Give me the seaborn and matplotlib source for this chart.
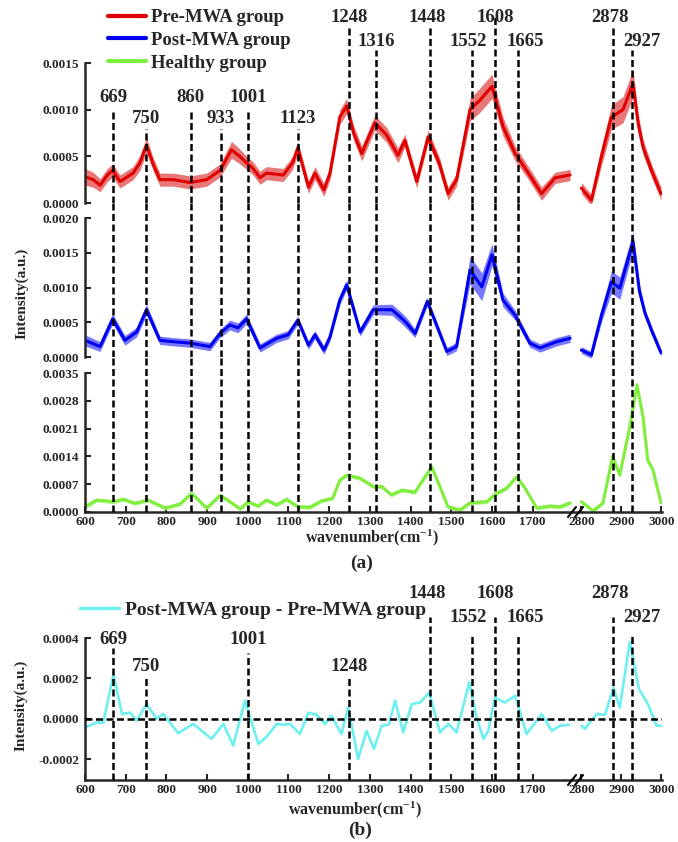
import matplotlib
matplotlib.use("Agg")
import matplotlib.pyplot as plt
from matplotlib.ticker import FormatStrFormatter
from matplotlib.lines import Line2D
import seaborn as sns
import numpy as np

# ====================================================
# DATA
# ====================================================

pre_wn = [600, 620, 637, 655, 668, 686, 718, 735, 751, 768,
          784, 817, 858, 899, 932, 960, 980, 997, 1013, 1030,
          1046, 1087, 1110, 1123, 1149, 1165, 1187, 1202, 1226, 1243,
          1260, 1280, 1312, 1341, 1369, 1386, 1415, 1443, 1470, 1492,
          1513, 1546, 1570, 1600, 1627, 1657, 1685, 1722, 1755, 1792,
          2800, 2825, 2850, 2875, 2904, 2929, 2942, 2954, 2975, 2999]
pre_int = [2.8e-4, 2.5e-4, 1.9e-4, 3.0e-4, 3.5e-4, 2.3e-4, 3.2e-4, 4.3e-4, 6.2e-4, 4.1e-4,
           2.5e-4, 2.5e-4, 2.2e-4, 2.5e-4, 3.5e-4, 5.7e-4, 5.0e-4, 4.3e-4, 3.7e-4, 2.7e-4,
           3.2e-4, 3.0e-4, 4.3e-4, 5.9e-4, 1.7e-4, 3.2e-4, 1.4e-4, 3.2e-4, 9.2e-4, 10.4e-4,
           7.5e-4, 5.3e-4, 8.6e-4, 7.3e-4, 5.1e-4, 6.7e-4, 2.3e-4, 7.1e-4, 4.3e-4, 1.0e-4,
           2.5e-4, 10.0e-4, 11.0e-4, 12.5e-4, 8.2e-4, 5.3e-4, 3.5e-4, 1.0e-4, 2.7e-4, 3.0e-4,
           1.6e-4, 0.3e-4, 5.0e-4, 9.2e-4, 10.0e-4, 12.8e-4, 8.5e-4, 6.0e-4, 3.5e-4, 1.0e-4]
pre_sd = [0.9e-4, 0.8e-4, 0.7e-4, 0.7e-4, 0.7e-4, 0.7e-4, 0.7e-4, 0.8e-4, 0.8e-4, 0.7e-4,
          0.7e-4, 0.7e-4, 0.7e-4, 0.7e-4, 0.7e-4, 0.9e-4, 0.8e-4, 0.7e-4, 0.7e-4, 0.7e-4,
          0.7e-4, 0.7e-4, 0.7e-4, 0.7e-4, 0.7e-4, 0.7e-4, 0.7e-4, 0.7e-4, 0.8e-4, 0.8e-4,
          0.8e-4, 0.8e-4, 0.8e-4, 0.8e-4, 0.8e-4, 0.7e-4, 0.7e-4, 0.7e-4, 0.7e-4, 0.7e-4,
          0.7e-4, 1.2e-4, 1.3e-4, 1.3e-4, 1.0e-4, 0.8e-4, 0.7e-4, 0.7e-4, 0.6e-4, 0.6e-4,
          0.6e-4, 0.6e-4, 1.0e-4, 1.3e-4, 1.4e-4, 1.5e-4, 1.0e-4, 0.8e-4, 0.7e-4, 0.7e-4]

post_wn = [600, 637, 668, 698, 727, 751,
           784, 817, 858, 907, 932, 956, 976, 997, 1030, 1071,
           1099, 1123, 1149, 1165, 1187, 1202, 1226, 1243, 1276, 1308,
           1354, 1374, 1390, 1411, 1441, 1489, 1513, 1546, 1575, 1600,
           1627, 1657, 1693, 1718, 1759, 1792,
           2800, 2825, 2850, 2875, 2896, 2929, 2945, 2959, 2975, 2999]
post_int = [2.4e-4, 1.5e-4, 5.5e-4, 2.4e-4, 3.6e-4, 6.8e-4,
            2.4e-4, 2.2e-4, 2.0e-4, 1.5e-4, 3.4e-4, 4.6e-4, 4.2e-4, 5.5e-4, 1.3e-4, 2.7e-4,
            3.2e-4, 5.3e-4, 1.7e-4, 3.2e-4, 1.0e-4, 2.9e-4, 8.2e-4, 10.4e-4, 3.6e-4, 6.8e-4,
            6.8e-4, 5.8e-4, 4.9e-4, 3.4e-4, 8.0e-4, 0.8e-4, 1.5e-4, 12.5e-4, 10.1e-4, 14.7e-4,
            8.2e-4, 6.0e-4, 2.0e-4, 1.3e-4, 2.2e-4, 2.7e-4,
            1.0e-4, 0.3e-4, 6.0e-4, 10.8e-4, 9.9e-4, 16.6e-4, 9.5e-4, 6.3e-4, 3.9e-4, 0.6e-4]
post_sd = [0.8e-4, 0.7e-4, 0.7e-4, 0.7e-4, 0.7e-4, 0.8e-4,
           0.6e-4, 0.6e-4, 0.6e-4, 0.6e-4, 0.6e-4, 0.7e-4, 0.7e-4, 0.7e-4, 0.6e-4, 0.6e-4,
           0.6e-4, 0.6e-4, 0.6e-4, 0.6e-4, 0.6e-4, 0.6e-4, 0.7e-4, 0.7e-4, 0.6e-4, 0.7e-4,
           0.8e-4, 0.8e-4, 0.8e-4, 0.6e-4, 0.6e-4, 0.6e-4, 0.6e-4, 2.0e-4, 2.0e-4, 1.6e-4,
           1.0e-4, 0.7e-4, 0.6e-4, 0.6e-4, 0.6e-4, 0.6e-4,
           0.5e-4, 0.5e-4, 1.0e-4, 1.6e-4, 1.6e-4, 1.4e-4, 1.0e-4, 0.6e-4, 0.6e-4, 0.5e-4]

healthy_wn = [600, 629, 670, 694, 723, 755, 797, 833, 862, 899,
              932, 956, 981, 1001, 1025, 1046, 1071, 1095, 1123, 1153,
              1181, 1209, 1226, 1243, 1276, 1308, 1329, 1353, 1378, 1411,
              1430, 1452, 1472, 1492, 1521, 1546, 1587, 1611, 1636, 1661,
              1681, 1710, 1742, 1767, 1792,
              2800, 2829, 2854, 2878, 2896, 2921, 2939, 2954, 2966, 2979, 2999]
healthy_int = [1.3e-4, 3.0e-4, 2.6e-4, 3.2e-4, 2.2e-4, 3.0e-4, 1.0e-4, 2.0e-4, 4.7e-4, 1.0e-4,
               4.2e-4, 2.6e-4, 0.8e-4, 2.6e-4, 1.5e-4, 3.0e-4, 1.8e-4, 3.2e-4, 1.3e-4, 1.2e-4,
               2.8e-4, 3.5e-4, 8.0e-4, 9.3e-4, 8.5e-4, 6.4e-4, 6.4e-4, 4.3e-4, 5.5e-4, 5.0e-4,
               8.0e-4, 11.4e-4, 6.4e-4, 1.3e-4, 0.5e-4, 2.3e-4, 2.6e-4, 4.7e-4, 6.0e-4, 8.9e-4,
               6.0e-4, 1.0e-4, 1.5e-4, 1.3e-4, 2.3e-4,
               2.6e-4, 0.3e-4, 2.3e-4, 14.0e-4, 9.3e-4, 21.5e-4, 32.0e-4, 24.0e-4, 13.0e-4, 10.6e-4, 2.3e-4]
healthy_sd = [0.5e-4] * 45 + [0.5e-4, 0.5e-4, 0.5e-4, 0.7e-4, 0.7e-4, 0.9e-4, 0.9e-4, 0.9e-4, 0.7e-4, 0.7e-4, 0.5e-4]

diff_wn = [600, 629, 645, 670, 691, 711, 727, 751, 776, 792,
           829, 866, 911, 940, 964, 993, 1026, 1046, 1071, 1087,
           1104, 1128, 1149, 1169, 1190, 1206, 1230, 1247, 1271, 1292,
           1310, 1329, 1346, 1362, 1382, 1403, 1423, 1446, 1472, 1493,
           1513, 1544, 1562, 1579, 1591, 1607, 1632, 1657, 1685, 1722,
           1747, 1767, 1790,
           2800, 2809, 2838, 2859, 2880, 2896, 2921, 2944, 2967, 2988, 2999]
diff_int = [-4.3e-5, -1.8e-5, -2.0e-5, 22e-5, 2.3e-5, 3.0e-5, -1.0e-5, 7.3e-5, 0.0, 2.3e-5,
            -7.2e-5, -2.6e-5, -10e-5, -2.6e-5, -13.3e-5, 8.9e-5, -12.5e-5, -9.0e-5, -2.6e-5, -3.0e-5,
            -2.6e-5, -7.6e-5, 3.0e-5, 2.0e-5, -2.6e-5, 1.5e-5, -7.6e-5, 5.6e-5, -20e-5, -6e-5,
            -15e-5, -3.5e-5, -3.0e-5, 8.9e-5, -6.8e-5, 7.3e-5, 8.0e-5, 13e-5, -6.8e-5, -2.6e-5,
            -6.8e-5, 18e-5, 0.7e-5, -10e-5, -6e-5, 10.5e-5, 8.0e-5, 11.4e-5, -7.6e-5, 2.3e-5,
            -6e-5, -3.5e-5, -3.0e-5,
            -3.5e-5, -5.0e-5, 2.3e-5, 2.0e-5, 15.5e-5, 5.6e-5, 38e-5, 14.7e-5, 7.0e-5, -3.5e-5, -3.5e-5]

peaks_a = [669, 750, 860, 933, 1001, 1123, 1248, 1316, 1448, 1552, 1608, 1665, 2878, 2927]
peaks_b = [669, 750, 1001, 1248, 1448, 1552, 1608, 1665, 2878, 2927]

xticks_lo = list(range(600, 1800, 100))
xticks_hi = [2800, 2900, 3000]

# ====================================================
# LAYOUT (pixel based, 678 x 842)
# ====================================================

W, H = 678, 842
X0, XB0, XB1, X1 = 85, 575, 577, 662
XLIM_LO = (600, 1804)
XLIM_HI = (2789, 3001.5)

# peak -> (top of dashed line, label height), in data units of that panel
marks_a = {669: (0.000996, 0.00113), 750: (0.00079, 0.00091), 860: (0.000996, 0.00113),
           933: (0.00079, 0.00091), 1001: (0.000996, 0.00113), 1123: (0.00079, 0.00091),
           1248: (0.00188, 0.00199), 1316: (0.00164, 0.00173), 1448: (0.00188, 0.00199),
           1552: (0.00164, 0.00173), 1608: (0.00203, 0.00199), 1665: (0.00164, 0.00173),
           2878: (0.00188, 0.00199), 2927: (0.00164, 0.00173)}
marks_b = {669: (0.00035, 0.000395), 750: (0.000207, 0.000257), 1001: (0.000326, 0.000395),
           1248: (0.000207, 0.000257), 1448: (0.000504, 0.000622), 1552: (0.000415, 0.000504),
           1608: (0.000504, 0.000622), 1665: (0.000415, 0.000504), 2878: (0.000504, 0.000622),
           2927: (0.000415, 0.000504)}
nudge = {1448: -3, 1552: -4, 1665: 7, 2878: -3, 2927: 10}

DASH = (0, (2.8, 1.4))

sns.set_style("ticks")
plt.rcParams["font.family"] = ["Liberation Serif", "DejaVu Serif"]
plt.rcParams["font.weight"] = "bold"
plt.rcParams["mathtext.fontset"] = "custom"
plt.rcParams["mathtext.rm"] = "Liberation Serif:bold"
plt.rcParams["mathtext.it"] = "Liberation Serif:bold"
plt.rcParams["mathtext.bf"] = "Liberation Serif:bold"

fig = plt.figure(figsize=(W / 100, H / 100), dpi=100)


def box(x0, x1, y0, y1):
    return [x0 / W, 1 - y1 / H, (x1 - x0) / W, (y1 - y0) / H]


def make_pair(top, bot, ylim, yticks, spine_top, bottom_row):
    axL = fig.add_axes(box(X0, XB0, top, bot))
    axR = fig.add_axes(box(XB1, X1, top, bot))
    axL.set_xlim(XLIM_LO)
    axR.set_xlim(XLIM_HI)
    for ax in (axL, axR):
        ax.set_ylim(ylim)
        ax.patch.set_alpha(0)
        ax.spines["top"].set_visible(False)
        ax.spines["right"].set_visible(False)
        ax.tick_params(direction="in", length=4, width=1.5, labelsize=9.5, pad=3)
        for s in ax.spines.values():
            s.set_linewidth(1.8)
        if not bottom_row:
            ax.spines["bottom"].set_visible(False)
            ax.tick_params(axis="x", bottom=False, labelbottom=False)
    axL.set_xticks(xticks_lo)
    axR.set_xticks(xticks_hi)
    axR.spines["left"].set_visible(False)
    axR.tick_params(axis="y", left=False, labelleft=False)
    axL.set_yticks(yticks)
    axL.yaxis.set_major_formatter(FormatStrFormatter("%.4f"))
    axL.tick_params(axis="y", pad=4)
    axL.spines["left"].set_bounds(ylim[0], spine_top)
    return axL, axR


def draw_curve(axL, axR, wn, y, sd, color, band, lw, label):
    wn = np.asarray(wn)
    y = np.asarray(y)
    sd = np.asarray(sd) if sd is not None else None
    lo = wn < 2000
    for ax, m, lab in ((axL, lo, label), (axR, ~lo, None)):
        if sd is not None:
            ax.fill_between(wn[m], y[m] - sd[m], y[m] + sd[m], color=band, lw=0, alpha=0.75, zorder=1.5)
        sns.lineplot(x=wn[m], y=y[m], ax=ax, color=color, lw=lw, label=lab,
                     errorbar=None, legend=False, zorder=2)
        ax.set_xlabel("")
        ax.set_ylabel("")


def peak_lines(axL, axR, peaks, y0, tops):
    for p in peaks:
        ax = axR if p > 2000 else axL
        ax.vlines(p, y0, tops[p], colors="black", lw=1.8, linestyles=DASH, zorder=3)


def peak_labels(axL, axR, peaks, marks):
    for p in peaks:
        ax = axR if p > 2000 else axL
        ax.annotate(str(p), xy=(p, marks[p][1]), xytext=(nudge.get(p, 0) * 0.72, 0),
                    textcoords="offset points", ha="center", va="center",
                    fontsize=13.5, fontweight="bold", annotation_clip=False)


def break_marks(ypx):
    for dx in (0, 7):
        fig.add_artist(Line2D([(568 + dx) / W, (576 + dx) / W],
                              [1 - (ypx + 5) / H, 1 - (ypx - 5) / H],
                              color="black", lw=1.5))


# ====================================================
# (a) THREE STACKED SPECTRA
# ====================================================

rows = [
    dict(wn=pre_wn, y=pre_int, sd=pre_sd, color="#e00000", band="#e34a4a",
         label="Pre-MWA group", top=0, bot=203, ylim=(0, 0.002175),
         yticks=[0, 0.0005, 0.0010, 0.0015], spine_top=0.0015),
    dict(wn=post_wn, y=post_int, sd=post_sd, color="#0000f0", band="#4b4bff",
         label="Post-MWA group", top=203, bot=357, ylim=(0, 0.002216),
         yticks=[0, 0.0005, 0.0010, 0.0015, 0.0020], spine_top=0.0020),
    dict(wn=healthy_wn, y=healthy_int, sd=healthy_sd, color="#80ee3c", band="#a0f070",
         label="Healthy group", top=357, bot=512, ylim=(0, 0.003903),
         yticks=[0, 0.0007, 0.0014, 0.0021, 0.0028, 0.0035], spine_top=0.0035),
]

handles = []
for i, r in enumerate(rows):
    bottom_row = i == len(rows) - 1
    axL, axR = make_pair(r["top"], r["bot"], r["ylim"], r["yticks"], r["spine_top"], bottom_row)
    draw_curve(axL, axR, r["wn"], r["y"], r["sd"], r["color"], r["band"], 2.2, r["label"])
    if i == 0:
        peak_lines(axL, axR, peaks_a, 0, {p: marks_a[p][0] for p in peaks_a})
        peak_labels(axL, axR, peaks_a, marks_a)
    else:
        peak_lines(axL, axR, peaks_a, 0, {p: r["ylim"][1] for p in peaks_a})
    h, _ = axL.get_legend_handles_labels()
    handles += h

leg = fig.legend(handles, [r["label"] for r in rows], loc="upper left",
                 bbox_to_anchor=(108 / W, 1 - 9 / H), frameon=False,
                 handlelength=2.0, handletextpad=0.3, labelspacing=0.3,
                 borderpad=0, borderaxespad=0, prop={"weight": "bold", "size": 13.5})
for ln in leg.get_lines():
    ln.set_linewidth(3)
break_marks(512)

fig.text(22 / W, 1 - 293 / H, "Intensity(a.u.)", rotation=90, ha="center", va="center", fontsize=11)
fig.text(372 / W, 1 - 538 / H, r"wavenumber(cm$^{-1}$)", ha="center", va="center", fontsize=11.5)
fig.text(362 / W, 1 - 563 / H, "(a)", ha="center", va="center", fontsize=14)

# ====================================================
# (b) DIFFERENCE SPECTRUM
# ====================================================

ylim_b = (-0.000304, 0.000673)
axL, axR = make_pair(583, 780, ylim_b, [-0.0002, 0.0, 0.0002, 0.0004], 0.0004, True)
draw_curve(axL, axR, diff_wn, diff_int, None, "#6ef0f0", None, 1.9, "Post-MWA group - Pre-MWA group")
for ax in (axL, axR):
    ax.axhline(0, color="black", lw=1.8, linestyle=DASH, zorder=3)
peak_lines(axL, axR, peaks_b, ylim_b[0], {p: marks_b[p][0] for p in peaks_b})
peak_labels(axL, axR, peaks_b, marks_b)

h, l = axL.get_legend_handles_labels()
leg_b = fig.legend(h, l, loc="upper left", bbox_to_anchor=(80 / W, 1 - 601 / H), frameon=False,
                   handlelength=2.0, handletextpad=0.3, borderpad=0, borderaxespad=0,
                   prop={"weight": "bold", "size": 14})
for ln in leg_b.get_lines():
    ln.set_linewidth(2.5)
break_marks(780)

fig.text(21 / W, 1 - 705 / H, "Intensity(a.u.)", rotation=90, ha="center", va="center", fontsize=11)
fig.text(355 / W, 1 - 810 / H, r"wavenumber(cm$^{-1}$)", ha="center", va="center", fontsize=11.5)
fig.text(360 / W, 1 - 830 / H, "(b)", ha="center", va="center", fontsize=14)

fig.savefig("out.png", dpi=100)
plt.close(fig)
